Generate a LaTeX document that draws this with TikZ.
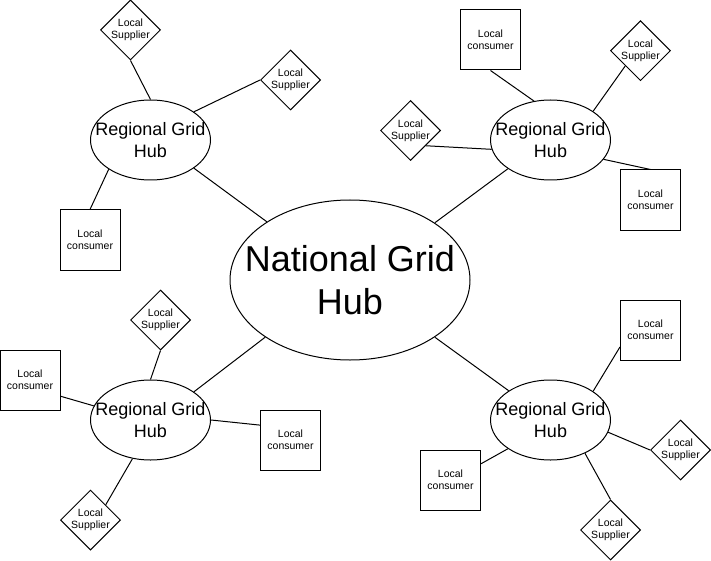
\documentclass[tikz,border=0pt]{standalone}
\usepackage{fontspec}
\setmainfont{Liberation Sans}
\usetikzlibrary{shapes.geometric}
\begin{document}
\begin{tikzpicture}[x=1pt,y=-1pt,line width=1pt,
  txt/.style={align=center,font=\fontsize{10.5}{12}\selectfont},
  supplier/.style={draw,diamond,minimum size=60pt,inner sep=0pt,label={[txt]center:Local\\Supplier}},
  consumer/.style={draw,rectangle,minimum size=60pt,inner sep=0pt,label={[txt]center:Local\\consumer}},
  hub/.style={draw,ellipse,minimum width=120pt,minimum height=80pt,inner sep=0pt,
    label={[align=center,font=\fontsize{18}{21.5}\selectfont]center:Regional Grid\\Hub}}]
\useasboundingbox (0,0) rectangle (711,561);
\node[draw,ellipse,minimum width=240pt,minimum height=160pt,inner sep=0pt,
  label={[align=center,font=\fontsize{36}{43}\selectfont]center:National Grid\\Hub}] (natHub) at (350,280) {};
\foreach \n/\x/\y in {hubNW/150.5/140, hubNE/550.5/140, hubSW/150.5/420, hubSE/550.5/420}
  \node[hub] (\n) at (\x,\y) {};
\foreach \n/\x/\y in {supNWa/130.5/30, supNWb/290.5/80, supNEa/640.5/50.7, supNEb/410.5/130.5,
    supSWa/160.5/320, supSWb/90.5/520, supSEa/680.5/450, supSEb/610.5/530}
  \node[supplier] (\n) at (\x,\y) {};
\foreach \n/\x/\y in {conNW/90/240, conNEa/490.5/40, conNEb/650.5/200, conSWa/30/380,
    conSWb/290.5/440, conSEa/650.5/330, conSEb/450.5/480}
  \node[consumer] (\n) at (\x,\y) {};
\foreach \a/\b in {natHub.145.5/hubNW.327, natHub.34/hubNE.214, natHub.214/hubSW.33.5, natHub.326/hubSE.145.5,
    hubNW.north/supNWa.south, hubNW.33/supNWb.west, hubNW.215/conNW.north,
    hubNE.113/conNEa.south, hubNE.34/supNEa.225, hubNE.189/supNEb.315, hubNE.340/conNEb.north,
    hubSW.north/supSWa.south, hubSW.166/conSWa.332, hubSW.east/conSWb.154, hubSW.245/supSWb.45,
    hubSE.34.5/conSEa.209, hubSE.348/supSEa.west, hubSE.214/conSEb.28, hubSE.316/supSEb.north}
  \draw (\a) -- (\b);
\end{tikzpicture}
\end{document}
